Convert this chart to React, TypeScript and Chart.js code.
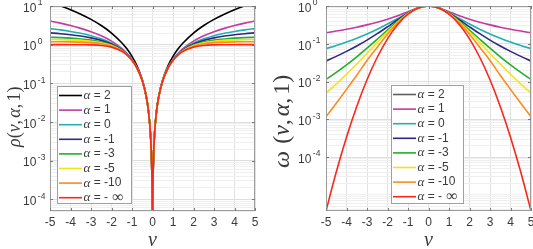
import React, { useEffect, useRef } from 'react';
import { Chart, registerables } from 'chart.js';

Chart.register(...registerables);

// ---------------- data ----------------
const alphaLabels = ['2', '1', '0', '-1', '-3', '-5', '-10', '- ∞'];

const nuRho = [-5, -4.5, -4, -3.5, -3, -2.5, -2, -1.5, -1.25, -1, -0.75, -0.5, -0.3, -0.2, -0.1, -0.05, -0.02, 0, 0.02, 0.05, 0.1, 0.2, 0.3, 0.5, 0.75, 1, 1.25, 1.5, 2, 2.5, 3, 3.5, 4, 4.5, 5];

const rhoA2 = [12.5, 10.13, 8, 6.125, 4.5, 3.125, 2, 1.125, 0.7813, 0.5, 0.2813, 0.125, 0.045, 0.02, 0.005, 0.00125, 0.0002, 0.00001, 0.0002, 0.00125, 0.005, 0.02, 0.045, 0.125, 0.2813, 0.5, 0.7813, 1.125, 2, 3.125, 4.5, 6.125, 8, 10.13, 12.5];
const rhoA1 = [4.099, 3.6098, 3.1231, 2.6401, 2.1623, 1.6926, 1.2361, 0.8028, 0.6008, 0.4142, 0.25, 0.118, 0.044, 0.0198, 0.00499, 0.00125, 0.0002, 0.00001, 0.0002, 0.00125, 0.00499, 0.0198, 0.044, 0.118, 0.25, 0.4142, 0.6008, 0.8028, 1.2361, 1.6926, 2.1623, 2.6401, 3.1231, 3.6098, 4.099];
const rhoA0 = [2.6027, 2.4092, 2.1972, 1.9636, 1.7047, 1.4171, 1.0986, 0.7538, 0.5773, 0.4055, 0.2478, 0.1178, 0.044, 0.0198, 0.00499, 0.00125, 0.0002, 0.00001, 0.0002, 0.00125, 0.00499, 0.0198, 0.044, 0.1178, 0.2478, 0.4055, 0.5773, 0.7538, 1.0986, 1.4171, 1.7047, 1.9636, 2.1972, 2.4092, 2.6027];
const rhoAm1 = [2.018, 1.9224, 1.8079, 1.6694, 1.5, 1.2915, 1.036, 0.7322, 0.5674, 0.4019, 0.247, 0.1177, 0.044, 0.0198, 0.00499, 0.00125, 0.0002, 0.00001, 0.0002, 0.00125, 0.00499, 0.0198, 0.044, 0.1177, 0.247, 0.4019, 0.5674, 0.7322, 1.036, 1.2915, 1.5, 1.6694, 1.8079, 1.9224, 2.018];
const rhoAm3 = [1.5533, 1.5198, 1.473, 1.4066, 1.3109, 1.1728, 0.9765, 0.7121, 0.5583, 0.3988, 0.2463, 0.1176, 0.044, 0.0198, 0.00499, 0.00125, 0.0002, 0.00001, 0.0002, 0.00125, 0.00499, 0.0198, 0.044, 0.1176, 0.2463, 0.3988, 0.5583, 0.7121, 0.9765, 1.1728, 1.3109, 1.4066, 1.473, 1.5198, 1.5533];
const rhoAm5 = [1.3687, 1.3532, 1.3285, 1.2884, 1.2228, 1.116, 0.9477, 0.7025, 0.554, 0.3973, 0.246, 0.1176, 0.044, 0.0198, 0.00499, 0.00125, 0.0002, 0.00001, 0.0002, 0.00125, 0.00499, 0.0198, 0.044, 0.1176, 0.246, 0.3973, 0.554, 0.7025, 0.9477, 1.116, 1.2228, 1.2884, 1.3285, 1.3532, 1.3687];
const rhoAm10 = [1.1957, 1.1914, 1.1826, 1.1644, 1.1269, 1.0525, 0.9152, 0.6918, 0.5493, 0.3958, 0.2457, 0.1176, 0.044, 0.0198, 0.00499, 0.00125, 0.0002, 0.00001, 0.0002, 0.00125, 0.00499, 0.0198, 0.044, 0.1176, 0.2457, 0.3958, 0.5493, 0.6918, 0.9152, 1.0525, 1.1269, 1.1644, 1.1826, 1.1914, 1.1957];
const rhoAmInf = [1, 1, 0.9997, 0.9978, 0.9889, 0.9561, 0.8647, 0.6753, 0.5422, 0.3935, 0.2452, 0.1175, 0.044, 0.0198, 0.00499, 0.00125, 0.0002, 0.00001, 0.0002, 0.00125, 0.00499, 0.0198, 0.044, 0.1175, 0.2452, 0.3935, 0.5422, 0.6753, 0.8647, 0.9561, 0.9889, 0.9978, 0.9997, 1, 1];

const nuOmega = [-5, -4.5, -4, -3.5, -3, -2.5, -2, -1.5, -1, -0.5, 0, 0.5, 1, 1.5, 2, 2.5, 3, 3.5, 4, 4.5, 5];

const omegaA2 = [1, 1, 1, 1, 1, 1, 1, 1, 1, 1, 1, 1, 1, 1, 1, 1, 1, 1, 1, 1, 1];
const omegaA1 = [0.1961, 0.2169, 0.2425, 0.2747, 0.3162, 0.3714, 0.4472, 0.5547, 0.7071, 0.8944, 1, 0.8944, 0.7071, 0.5547, 0.4472, 0.3714, 0.3162, 0.2747, 0.2425, 0.2169, 0.1961];
const omegaA0 = [0.0741, 0.0899, 0.1111, 0.1404, 0.1818, 0.2424, 0.3333, 0.4706, 0.6667, 0.8889, 1, 0.8889, 0.6667, 0.4706, 0.3333, 0.2424, 0.1818, 0.1404, 0.1111, 0.0899, 0.0741];
const omegaAm1 = [0.03507, 0.04635, 0.06274, 0.08725, 0.125, 0.1847, 0.2806, 0.432, 0.6495, 0.8869, 1, 0.8869, 0.6495, 0.432, 0.2806, 0.1847, 0.125, 0.08725, 0.06274, 0.04635, 0.03507];
const omegaAm3 = [0.01134, 0.01745, 0.02766, 0.04523, 0.07623, 0.1317, 0.23, 0.395, 0.6339, 0.8852, 1, 0.8852, 0.6339, 0.395, 0.23, 0.1317, 0.07623, 0.04523, 0.02766, 0.01745, 0.01134];
const omegaAm5 = [0.004896, 0.008592, 0.01555, 0.029, 0.05539, 0.1072, 0.2056, 0.377, 0.6267, 0.8844, 1, 0.8844, 0.6267, 0.377, 0.2056, 0.1072, 0.05539, 0.029, 0.01555, 0.008592, 0.004896];
const omegaAm10 = [0.001164, 0.002654, 0.006196, 0.01468, 0.03607, 0.08082, 0.178, 0.3566, 0.6186, 0.8836, 1, 0.8836, 0.6186, 0.3566, 0.178, 0.08082, 0.03607, 0.01468, 0.006196, 0.002654, 0.001164];
const omegaAmInf = [0.000003727, 0.00004007, 0.0003355, 0.002188, 0.01111, 0.04394, 0.1353, 0.3247, 0.6065, 0.8825, 1, 0.8825, 0.6065, 0.3247, 0.1353, 0.04394, 0.01111, 0.002188, 0.0003355, 0.00004007, 0.000003727];

const xTicks = [-5, -4, -3, -2, -1, 0, 1, 2, 3, 4, 5];
const rhoExponents = [1, 0, -1, -2, -3, -4];
const omegaExponents = [0, -1, -2, -3, -4];

// ---------------- styles ----------------
const colorsLeft = ['#000000', '#C23B9E', '#22B0B0', '#2E2888', '#22AE2A', '#F2E411', '#FF8A1E', '#F8281A'];
const colorsRight = ['#5e5e5e', '#C23B9E', '#22B0B0', '#2E2888', '#22AE2A', '#F2E411', '#FF8A1E', '#F8281A'];

const SANS = '"Liberation Sans", Arial, Helvetica, sans-serif';
const SERIF = '"Liberation Serif", "Times New Roman", serif';
const TXT = '#3a3a3a';

type Seg = [string, boolean, number]; // text, italic, extra space after (em)

function titleSegs(first: string, spaceAfterFirst: boolean): Seg[] {
  return [
    [first, true, spaceAfterFirst ? 0.3 : 0],
    ['(', false, 0],
    ['ν', true, 0],
    [',', false, 0.12],
    ['α', true, 0],
    [',', false, 0.12],
    ['1', false, 0],
    [')', false, 0],
  ];
}

function gridValues(nFrom: number, nTo: number, min: number, max: number): number[] {
  const out: number[] = [];
  for (let n = nFrom; n <= nTo; n++) {
    for (let k = 1; k <= 9; k++) {
      const v = Number(`${k}e${n}`);
      if (v >= min * 0.9999 && v <= max * 1.0001) out.push(v);
    }
  }
  return out;
}

function makeOverlay(cfg: any) {
  return {
    id: 'overlay' + cfg.name,
    afterDraw(chart: any) {
      const ctx: CanvasRenderingContext2D = chart.ctx;
      const { left, right, top, bottom } = chart.chartArea;
      const xs = chart.scales.x;
      const ys = chart.scales.y;
      ctx.save();

      // axes box
      ctx.strokeStyle = '#9c9c9c';
      ctx.lineWidth = 1;
      ctx.strokeRect(left + 0.5, top + 0.5, right - left - 1, bottom - top - 1);

      // inward ticks
      ctx.strokeStyle = '#7a7a7a';
      ctx.beginPath();
      xTicks.forEach((v) => {
        const px = Math.round(xs.getPixelForValue(v)) + 0.5;
        ctx.moveTo(px, bottom);
        ctx.lineTo(px, bottom - 3);
        ctx.moveTo(px, top);
        ctx.lineTo(px, top + 3);
      });
      cfg.exps.forEach((e: number) => {
        const py = Math.round(ys.getPixelForValue(Math.pow(10, e))) + 0.5;
        ctx.moveTo(left, py);
        ctx.lineTo(left + 3, py);
        ctx.moveTo(right, py);
        ctx.lineTo(right - 3, py);
      });
      ctx.stroke();

      // x tick labels
      ctx.fillStyle = TXT;
      ctx.font = `12px ${SANS}`;
      ctx.textAlign = 'center';
      ctx.textBaseline = 'middle';
      xTicks.forEach((v) => {
        ctx.fillText(String(v), xs.getPixelForValue(v), bottom + 12);
      });

      // y tick labels 10^n
      ctx.textAlign = 'left';
      cfg.exps.forEach((e: number) => {
        const py = ys.getPixelForValue(Math.pow(10, e));
        const x0 = left - cfg.labelOffset;
        ctx.font = `12px ${SANS}`;
        ctx.fillText('10', x0, py + 2.5);
        const w = ctx.measureText('10').width;
        ctx.font = `8.5px ${SANS}`;
        ctx.fillText(String(e), x0 + w + 1.5, py - 3);
      });

      // x title
      ctx.font = `italic 20px ${SERIF}`;
      ctx.textAlign = 'center';
      ctx.textBaseline = 'alphabetic';
      ctx.fillText('ν', (left + right) / 2, 246);

      // y title (rotated); the string runs upward from (titleX, titleBottom)
      const size = cfg.titleSize;
      const segs: Seg[] = cfg.titleSegs;
      const fontOf = (it: boolean) => `${it ? 'italic ' : ''}${size}px ${SERIF}`;
      ctx.save();
      ctx.translate(cfg.titleX, cfg.titleBottom);
      ctx.rotate(-Math.PI / 2);
      ctx.textAlign = 'left';
      ctx.textBaseline = 'middle';
      let cx = 0;
      segs.forEach(([t, it, sp]) => {
        ctx.font = fontOf(it);
        ctx.fillText(t, cx, 0);
        cx += ctx.measureText(t).width + sp * size;
      });
      ctx.restore();

      // legend
      const lg = cfg.legend;
      const bx = left + lg.dx;
      const by = top + lg.dy;
      ctx.fillStyle = '#ffffff';
      ctx.fillRect(bx, by, lg.w, lg.h);
      ctx.strokeStyle = '#a0a0a0';
      ctx.lineWidth = 1;
      ctx.strokeRect(bx + 0.5, by + 0.5, lg.w - 1, lg.h - 1);
      alphaLabels.forEach((lab, i) => {
        const ry = by + 9.5 + i * 14.6;
        ctx.strokeStyle = cfg.colors[i];
        ctx.lineWidth = 1.6;
        ctx.beginPath();
        ctx.moveTo(bx + 2, ry);
        ctx.lineTo(bx + 25, ry);
        ctx.stroke();
        ctx.fillStyle = TXT;
        ctx.textBaseline = 'middle';
        ctx.textAlign = 'left';
        let tx = bx + 26.5;
        ctx.font = `italic 13px ${SERIF}`;
        ctx.fillText('α', tx, ry);
        tx += ctx.measureText('α').width;
        ctx.font = `12px ${SANS}`;
        if (lab.indexOf('∞') >= 0) {
          const pre = ' = - ';
          ctx.fillText(pre, tx, ry);
          tx += ctx.measureText(pre).width + 1;
          ctx.font = `16px ${SERIF}`;
          ctx.fillText('∞', tx, ry + 0.5);
        } else {
          ctx.fillText(' = ' + lab, tx, ry);
        }
      });

      ctx.restore();
    },
  };
}

function makeConfig(opts: any) {
  const { xsData, series, colors, yMin, yMax, grid, exps, padRight, yWidth, overlay } = opts;
  const majorSet = exps.map((e: number) => Math.pow(10, e));
  const isMajor = (v: number) => majorSet.some((m: number) => Math.abs(v / m - 1) < 1e-6);
  return {
    type: 'line',
    data: {
      datasets: series.map((arr: number[], i: number) => ({
        label: 'α = ' + alphaLabels[i],
        data: xsData.map((x: number, j: number) => ({ x, y: arr[j] })),
        borderColor: colors[i],
        backgroundColor: colors[i],
        borderWidth: 1.6,
        pointRadius: 0,
        fill: false,
        cubicInterpolationMode: 'monotone',
        order: series.length - 1 - i,
      })),
    },
    options: {
      responsive: false,
      maintainAspectRatio: false,
      animation: false,
      events: [],
      layout: { padding: { top: 6, right: padRight, left: 0, bottom: 0 } },
      plugins: { legend: { display: false }, tooltip: { enabled: false }, title: { display: false } },
      scales: {
        x: {
          type: 'linear',
          min: -5,
          max: 5,
          ticks: { display: false, stepSize: 1 },
          grid: { color: '#e2e2e2', drawTicks: false, lineWidth: 1 },
          border: { display: false },
          afterFit: (s: any) => {
            s.height = 38;
          },
        },
        y: {
          type: 'logarithmic',
          min: yMin,
          max: yMax,
          ticks: { display: false },
          grid: {
            drawTicks: false,
            lineWidth: 1,
            color: (c: any) => (c.tick && isMajor(c.tick.value) ? '#dedede' : '#efefef'),
          },
          border: { display: false },
          afterBuildTicks: (s: any) => {
            s.ticks = grid.map((v: number) => ({ value: v }));
          },
          afterFit: (s: any) => {
            s.width = yWidth;
          },
        },
      },
    },
    plugins: [overlay],
  };
}

export default function App() {
  const leftRef = useRef<HTMLCanvasElement>(null);
  const rightRef = useRef<HTMLCanvasElement>(null);

  useEffect(() => {
    const leftCfg: any = makeConfig({
      xsData: nuRho,
      series: [rhoA2, rhoA1, rhoA0, rhoAm1, rhoAm3, rhoAm5, rhoAm10, rhoAmInf],
      colors: colorsLeft,
      yMin: 5e-5,
      yMax: 10,
      grid: gridValues(-5, 1, 5e-5, 10),
      exps: rhoExponents,
      padRight: 11,
      yWidth: 50,
      overlay: makeOverlay({
        name: 'L',
        exps: rhoExponents,
        labelOffset: 27,
        titleSegs: titleSegs('ρ', false),
        titleSize: 18,
        titleX: 15,
        titleBottom: 147,
        legend: { dx: 7, dy: 80, w: 75, h: 118 },
        colors: colorsLeft,
      }),
    });
    const rightCfg: any = makeConfig({
      xsData: nuOmega,
      series: [omegaA2, omegaA1, omegaA0, omegaAm1, omegaAm3, omegaAm5, omegaAm10, omegaAmInf],
      colors: colorsRight,
      yMin: 3.72e-6,
      yMax: 1,
      grid: gridValues(-6, 0, 3.72e-6, 1),
      exps: omegaExponents,
      padRight: 2,
      yWidth: 60,
      overlay: makeOverlay({
        name: 'R',
        exps: omegaExponents,
        labelOffset: 28,
        titleSegs: titleSegs('ω', true),
        titleSize: 24,
        titleX: 17,
        titleBottom: 168,
        legend: { dx: 65, dy: 79, w: 73, h: 119 },
        colors: colorsRight,
      }),
    });
    const c1 = new Chart(leftRef.current as HTMLCanvasElement, leftCfg);
    const c2 = new Chart(rightRef.current as HTMLCanvasElement, rightCfg);
    return () => {
      c1.destroy();
      c2.destroy();
    };
  }, []);

  return (
    <div style={{ position: 'absolute', left: 0, top: 0, width: 533, height: 249, background: '#ffffff' }}>
      <canvas
        ref={leftRef}
        width={266}
        height={249}
        style={{ position: 'absolute', left: 0, top: 0, width: 266, height: 249 }}
      />
      <canvas
        ref={rightRef}
        width={267}
        height={249}
        style={{ position: 'absolute', left: 266, top: 0, width: 267, height: 249 }}
      />
    </div>
  );
}
